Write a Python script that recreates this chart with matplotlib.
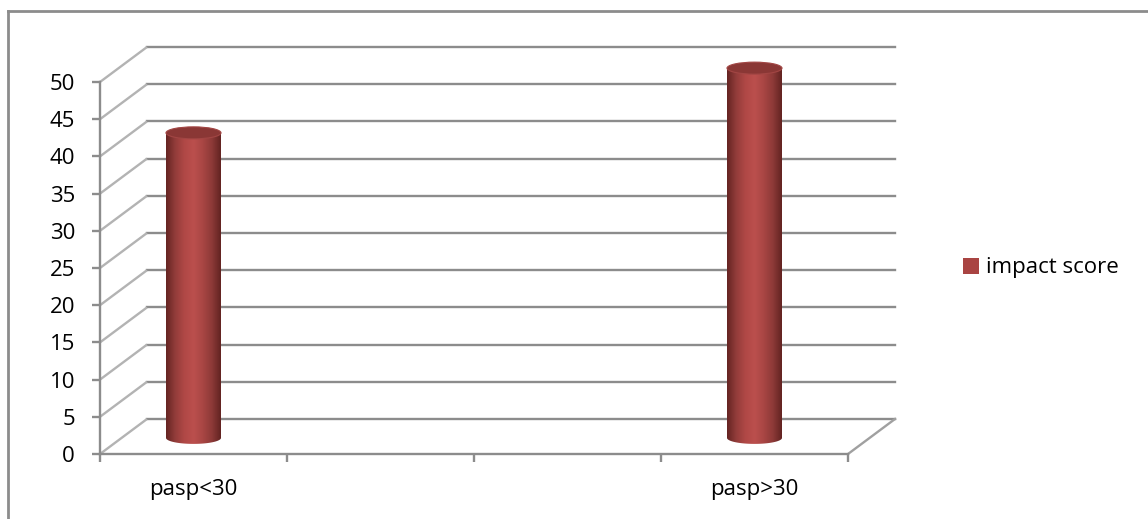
import numpy as np
import matplotlib.pyplot as plt
from matplotlib.colors import LinearSegmentedColormap
from matplotlib.patches import Polygon, Ellipse, Patch
from matplotlib.lines import Line2D

categories = ['pasp<30', '', '', 'pasp>30']
impact = [41.0, np.nan, np.nan, 49.7]
yticks = np.arange(0, 51, 5)

plt.rcParams['font.family'] = ['Open Sans', 'DejaVu Sans']
W, H = 1148, 519
n = len(categories)
# depth of the fake 3d box, in pixels
dx_px, dy_px = 47, 35
ppu = 372 / 50  # pixels per y unit
DX = dx_px / (748 / n)
DY = dy_px / ppu
ymax = 50 + DY

fig = plt.figure(figsize=(W / 100, H / 100), dpi=100)
ax = fig.add_axes([100 / W, (H - 454) / H, 748 / W, ymax * ppu / H])
ax.set_xlim(0, n)
ax.set_ylim(0, ymax)

grid_c = '#8c8c8c'

# back wall gridlines and the slanted side-wall lines
for y in yticks:
    ax.plot([DX, n + DX], [y + DY, y + DY], color=grid_c, lw=1.7, clip_on=False, zorder=1)
    ax.plot([0, DX], [y, y + DY], color='#b3b3b3', lw=1.7, clip_on=False, zorder=1,
            solid_capstyle='butt')
# floor right edge
ax.plot([n, n + DX], [0, DY], color='#a0a0a0', lw=1.7, clip_on=False, zorder=1)

for s in ['top', 'right']:
    ax.spines[s].set_visible(False)
for s in ['left', 'bottom']:
    ax.spines[s].set_color(grid_c)
    ax.spines[s].set_linewidth(1.7)
ax.spines['left'].set_bounds(0, 50)
ax.set_yticks(yticks)
ax.set_xticks(np.arange(n + 1))
ax.set_xticklabels([])
ax.set_xticks(np.arange(n) + 0.5, minor=True)
ax.set_xticklabels(categories, minor=True)
ax.tick_params(axis='y', direction='out', length=6, width=1.7, color=grid_c,
               labelsize=16, pad=12)
ax.tick_params(axis='x', which='major', direction='out', length=6, width=1.7, color=grid_c)
ax.tick_params(axis='x', which='minor', length=0, labelsize=16, pad=18)

# cylinders
cmap = LinearSegmentedColormap.from_list('cyl', ['#642422', '#923c3a', '#b04846', '#bb4f4d',
                                                  '#a94644', '#8e3a38', '#622321'])
grad = np.linspace(0, 1, 256).reshape(1, -1)
w = 55 / (748 / n)
ry = 6 / ppu
base = DY * 0.46
for i, v in enumerate(impact):
    if np.isnan(v):
        continue
    xc = i + 0.5
    top = base + v
    t = np.linspace(np.pi, 2 * np.pi, 40)
    arc = np.column_stack([xc + w / 2 * np.cos(t), base + ry * np.sin(t)])
    verts = np.vstack([[xc - w / 2, top], arc, [xc + w / 2, top]])
    body = Polygon(verts, closed=True, facecolor='none', edgecolor='none', zorder=4)
    ax.add_patch(body)
    im = ax.imshow(grad, cmap=cmap, extent=(xc - w / 2, xc + w / 2, base - ry, top),
                   aspect='auto', zorder=4)
    im.set_clip_path(body)
    ax.add_patch(Ellipse((xc, top), w, 2 * ry, facecolor='#8a3735', edgecolor='#a24644',
                         lw=0.8, zorder=5))

ax.set_xlim(0, n)
ax.set_ylim(0, ymax)

ax.legend(handles=[Patch(facecolor='#a94442', label='impact score')],
          loc='center left', bbox_to_anchor=(963 / W, 1 - 268 / H),
          bbox_transform=fig.transFigure, frameon=False, fontsize=16,
          handlelength=0.7, handleheight=0.7, handletextpad=0.35,
          borderpad=0, borderaxespad=0)

# chart area border (left and top edges only visible)
fig.add_artist(Line2D([8 / W, 8 / W], [0, 1 - 11 / H], color=grid_c, lw=2))
fig.add_artist(Line2D([8 / W, 1], [1 - 11 / H, 1 - 11 / H], color=grid_c, lw=2))

fig.savefig('out.png', dpi=100)
